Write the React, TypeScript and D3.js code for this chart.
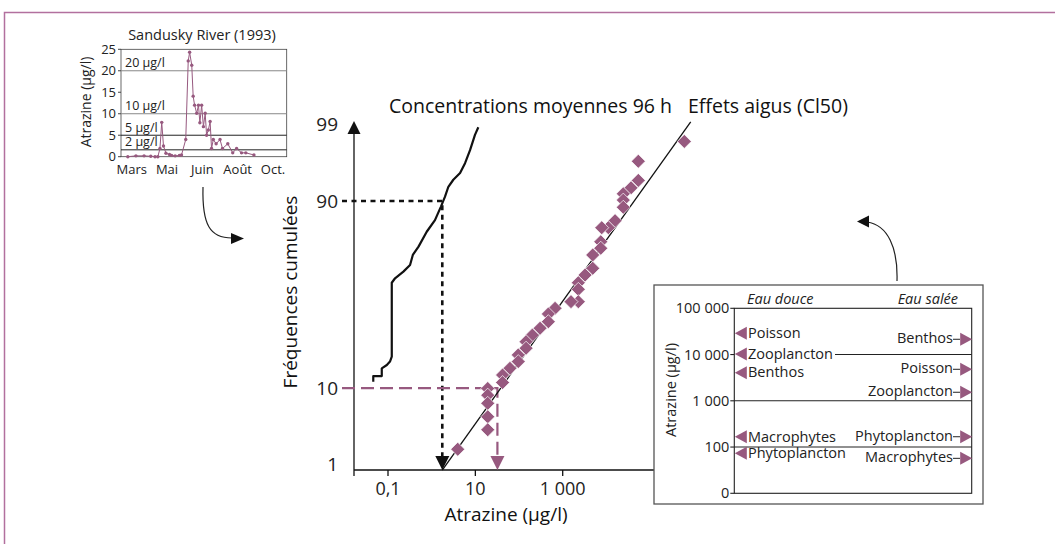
import React from "react";
import * as d3 from "d3";

const PURPLE = "#97597f";
const FRAME = "#b2709e";
const FONT = "'Open Sans', sans-serif";

// --- Sandusky River (1993) inset ---
const monthLabels = ["Mars", "Mai", "Juin", "Août", "Oct."];
const riverTicks = [0, 5, 10, 15, 20, 25];
const riverLimits = [20, 10, 5, 1.6];
const riverLimitLabels = ["20 μg/l", "10 μg/l", "5 μg/l", "2 μg/l"];
const riverLimitColors = ["#888", "#888", "#222", "#222"];
// time in label units (0 = Mars ... 4 = Oct.)
const riverT = [
  -0.11, 0.12, 0.35, 0.54, 0.66, 0.74, 0.8, 0.85, 0.9, 0.97, 1.07, 1.13, 1.23, 1.35, 1.41, 1.53,
  1.6, 1.64, 1.7, 1.74, 1.78, 1.84, 1.89, 1.93, 1.98, 2.03, 2.08, 2.12, 2.17, 2.22, 2.26, 2.31,
  2.39, 2.5, 2.57, 2.72, 2.86, 2.97, 3.11, 3.23, 3.46,
];
const riverConc = [
  0, 0.2, 0.2, 0.1, 0, 0, 1.9, 8, 2.5, 0.8, 0.5, 0.3, 0.2, 0.3, 0.4, 4,
  22.3, 24.3, 21.3, 14.1, 12, 10.1, 12, 7.9, 12, 7, 10.1, 5, 6.2, 8.2, 1.9, 4,
  3, 4, 1.9, 3, 0.9, 1.9, 0.9, 0.9, 0.4,
];

// --- main plot: cumulative frequencies ---
const yTicks = [1, 10, 90, 99];
const xTicks = [0.1, 10, 1000];
const xTickLabels = ["0,1", "10", "1 000"];
// mean 96 h concentrations (μg/l) vs cumulative frequency (%)
const concX = [
  0.046, 0.046, 0.072, 0.072, 0.094, 0.111, 0.122, 0.122, 0.122, 0.145, 0.225, 0.32, 0.37, 0.5,
  0.77, 1.19, 1.62, 2.02, 2.41, 3.13, 4.47, 5.81, 7.56, 9.8, 11.7,
];
const concPct = [
  11.6, 13.2, 13.2, 15.6, 16.7, 17.9, 19.7, 39.8, 56.4, 58.8, 62.3, 65.7, 70.6, 74.4,
  80.5, 84.6, 88.5, 91.0, 93.0, 94.2, 95.2, 96.4, 97.6, 98.56, 98.9,
];
// acute effects (CL50, μg/l) vs cumulative frequency (%)
const effX = [
  609000, 53900, 53900, 36700, 24400, 24400, 24400, 15800, 11100, 7830, 7430, 7430, 4870, 4870,
  3250, 2280, 2280, 2280, 1550, 668, 469, 469, 303, 202, 145, 145, 96, 96, 62, 42, 42,
  19.2, 19.2, 19.2, 19.2, 19.2, 3.95,
];
const effPct = [
  98.2, 96.6, 94.1, 92.8, 91.6, 90.2, 88.4, 84.4, 82.0, 82.0, 76.5, 73.7, 70.6, 64.0,
  60.5, 56.4, 52.8, 46.1, 46.1, 42.5, 39.5, 35.5, 32.2, 28.9, 25.9, 23.1, 20.4, 17.9, 15.6, 13.5, 11.4,
  9.9, 8.4, 6.8, 4.7, 3.2, 1.7,
];
const fitX = [1.75, 853000];
const fitPct = [0.81, 99.1];
const guideBlack = { pct: 90, x: 1.75 };
const guidePurple = { pct: 10, x: 32 };

// --- acute toxicity by group ---
const boxTicks = [10, 100, 1000, 10000, 100000];
const boxTickLabels = ["0", "100", "1 000", "10 000", "100 000"];
const freshTaxa = ["Poisson", "Zooplancton", "Benthos", "Macrophytes", "Phytoplancton"];
const freshValues = [28800, 10300, 4050, 167, 73];
const saltTaxa = ["Benthos", "Poisson", "Zooplancton", "Phytoplancton", "Macrophytes"];
const saltValues = [21400, 4800, 1530, 167, 57];

function probit(p: number): number {
  const a = [-39.69683028665376, 220.9460984245205, -275.9285104469687, 138.357751867269, -30.66479806614716, 2.506628277459239];
  const b = [-54.47609879822406, 161.5858368580409, -155.6989798598866, 66.80131188771972, -13.28068155288572];
  const c = [-0.007784894002430293, -0.3223964580411365, -2.400758277161838, -2.549671324505306, 4.374664141464968, 2.938163982698783];
  const d = [0.007784695709041462, 0.3224671290700398, 2.445134137142996, 3.754408661907416];
  const tail = (q: number) =>
    (((((c[0] * q + c[1]) * q + c[2]) * q + c[3]) * q + c[4]) * q + c[5]) /
    ((((d[0] * q + d[1]) * q + d[2]) * q + d[3]) * q + 1);
  if (p < 0.02425) return tail(Math.sqrt(-2 * Math.log(p)));
  if (p > 1 - 0.02425) return -tail(Math.sqrt(-2 * Math.log(1 - p)));
  const q = p - 0.5;
  const r = q * q;
  return (
    ((((((a[0] * r + a[1]) * r + a[2]) * r + a[3]) * r + a[4]) * r + a[5]) * q) /
    (((((b[0] * r + b[1]) * r + b[2]) * r + b[3]) * r + b[4]) * r + 1)
  );
}

const App = () => {
  // inset scales
  const rx = d3.scaleLinear().domain([0, 4]).range([131.7, 273]);
  const ry = d3.scaleLinear().domain([0, 25]).range([156.7, 49.3]);
  const riverLine = d3
    .line<number>()
    .x((_, i) => rx(riverT[i]))
    .y((v) => ry(v));

  // main scales
  const x = d3.scaleLog().domain([0.1, 1000]).range([388, 562.7]);
  const z = d3.scaleLinear().domain([-2, 2]).range([440.5, 148.5]);
  const y = (pct: number) => z(probit(pct / 100));
  const x0 = 354;
  const yBase = 470;
  const concLine = d3
    .line<number>()
    .x((v) => x(v))
    .y((_, i) => y(concPct[i]));

  // box scale
  const by = d3.scaleLog().domain([10, 100000]).range([493.3, 308.3]);
  const bL = 734.3;
  const bR = 971.7;

  const diamond = "M0,-7L7,0L0,7L-7,0Z";

  return (
    <svg
      width={1055}
      height={544}
      style={{ position: "absolute", left: 0, top: 0, background: "#fff", fontFamily: FONT }}
    >
      <rect x={4.5} y={12.5} width={1100} height={600} fill="none" stroke={FRAME} strokeWidth={1.5} />

      {/* ---------- Sandusky inset ---------- */}
      <text x={202} y={40} fontSize={14.5} textAnchor="middle" fill="#222">
        Sandusky River (1993)
      </text>
      <rect x={121} y={49.3} width={165.7} height={107.4} fill="none" stroke="#444" strokeWidth={0.8} />
      {riverLimits.map((v, i) => (
        <g key={i}>
          <line x1={121} x2={286.7} y1={ry(v)} y2={ry(v)} stroke={riverLimitColors[i]} strokeWidth={1} />
          <text x={125} y={ry(v) - 3.5} fontSize={12.5} fill="#222">
            {riverLimitLabels[i]}
          </text>
        </g>
      ))}
      {riverTicks.map((t) => (
        <g key={t}>
          <line x1={118} x2={121} y1={ry(t)} y2={ry(t)} stroke="#444" />
          <text x={116} y={ry(t)} dy="0.35em" fontSize={13} textAnchor="end" fill="#222">
            {t}
          </text>
        </g>
      ))}
      {monthLabels.map((m, i) => (
        <text key={m} x={rx(i)} y={174} fontSize={13} textAnchor="middle" fill="#222">
          {m}
        </text>
      ))}
      <text transform="translate(91,102) rotate(-90)" fontSize={14} textAnchor="middle" fill="#222">
        Atrazine (μg/l)
      </text>
      <path d={riverLine(riverConc) || ""} fill="none" stroke={PURPLE} strokeWidth={1} />
      {riverConc.map((v, i) => (
        <circle key={i} cx={rx(riverT[i])} cy={ry(v)} r={1.7} fill={PURPLE} />
      ))}

      {/* curved arrows */}
      <path d="M203,187 C202,225 210,238 232,238" fill="none" stroke="#222" strokeWidth={1.2} />
      <polygon points="244,238.5 231,233 231,244" fill="#111" />
      <path d="M897,281 C898,248 888,225 867,222" fill="none" stroke="#222" strokeWidth={1.2} />
      <polygon points="857,221.5 869,215.5 869,227.5" fill="#111" />

      {/* ---------- main plot ---------- */}
      <text x={389} y={113} fontSize={19.5} fill="#111">
        Concentrations moyennes 96 h
      </text>
      <text x={688} y={113} fontSize={19.5} fill="#111">
        Effets aigus (Cl50)
      </text>

      <line x1={x0} x2={x0} y1={yBase} y2={132} stroke="#111" strokeWidth={1.3} />
      <polygon points={`${x0},121 ${x0 - 6.5},134 ${x0 + 6.5},134`} fill="#111" />
      <line x1={x0} x2={660} y1={yBase} y2={yBase} stroke="#111" strokeWidth={1.3} />
      <line x1={x0} x2={x0} y1={yBase} y2={yBase + 6} stroke="#111" strokeWidth={1.3} />
      {xTicks.map((t, i) => (
        <g key={t}>
          <line x1={x(t)} x2={x(t)} y1={yBase} y2={yBase + 6} stroke="#111" strokeWidth={1.3} />
          <text x={x(t)} y={495} fontSize={18} textAnchor="middle" fill="#222">
            {xTickLabels[i]}
          </text>
        </g>
      ))}
      {yTicks.map((t) => (
        <text key={t} x={338} y={y(t)} dy="0.35em" fontSize={19} textAnchor="end" fill="#222">
          {t}
        </text>
      ))}
      <text transform="translate(297,292) rotate(-90)" fontSize={19} textAnchor="middle" fill="#111">
        Fréquences cumulées
      </text>
      <text x={506} y={521} fontSize={19} textAnchor="middle" fill="#111">
        Atrazine (μg/l)
      </text>

      {/* black dotted guide (90 %) */}
      <path
        d={`M342,${y(guideBlack.pct)}H${x(guideBlack.x)}V${yBase - 13}`}
        fill="none"
        stroke="#111"
        strokeWidth={2.6}
        strokeDasharray="5,4.5"
      />
      <polygon
        points={`${x(guideBlack.x)},${yBase} ${x(guideBlack.x) - 7},${yBase - 14} ${x(guideBlack.x) + 7},${yBase - 14}`}
        fill="#111"
      />

      {/* purple dashed guide (10 %) */}
      <path
        d={`M342,${y(guidePurple.pct)}H${x(guidePurple.x)}V${yBase - 13}`}
        fill="none"
        stroke={PURPLE}
        strokeWidth={2.2}
        strokeDasharray="13,6"
      />
      <polygon
        points={`${x(guidePurple.x)},${yBase} ${x(guidePurple.x) - 7},${yBase - 14} ${x(guidePurple.x) + 7},${yBase - 14}`}
        fill={PURPLE}
      />

      <path d={concLine(concX) || ""} fill="none" stroke="#111" strokeWidth={2.2} strokeLinejoin="round" />

      <line
        x1={x(fitX[0])}
        y1={y(fitPct[0])}
        x2={x(fitX[1])}
        y2={y(fitPct[1])}
        stroke="#111"
        strokeWidth={1.3}
      />
      {effX.map((v, i) => (
        <path
          key={i}
          d={diamond}
          transform={`translate(${x(v)},${y(effPct[i])})`}
          fill={PURPLE}
          stroke="#fff"
          strokeWidth={0.7}
        />
      ))}

      {/* ---------- toxicity box ---------- */}
      <rect x={654} y={285} width={329} height={219} fill="#fff" stroke="#555" strokeWidth={1.3} />
      <rect x={bL} y={by(100000)} width={bR - bL} height={by(10) - by(100000)} fill="none" stroke="#222" strokeWidth={1.1} />
      <line x1={835} x2={bR} y1={by(10000)} y2={by(10000)} stroke="#222" strokeWidth={1.1} />
      <line x1={bL} x2={bR} y1={by(1000)} y2={by(1000)} stroke="#222" strokeWidth={1.1} />
      <line x1={bL} x2={bR} y1={by(100)} y2={by(100)} stroke="#222" strokeWidth={1.1} />
      {boxTicks.map((t, i) => (
        <g key={t}>
          <line x1={bL - 4} x2={bL} y1={by(t)} y2={by(t)} stroke="#222" strokeWidth={1.1} />
          <text x={bL - 5} y={by(t)} dy="0.35em" fontSize={14.5} textAnchor="end" fill="#222">
            {boxTickLabels[i]}
          </text>
        </g>
      ))}
      <text transform="translate(676,390) rotate(-90)" fontSize={14.5} textAnchor="middle" fill="#222">
        Atrazine (μg/l)
      </text>
      <text x={747} y={304} fontSize={14.5} fontStyle="italic" fill="#222">
        Eau douce
      </text>
      <text x={958} y={304} fontSize={14.5} fontStyle="italic" fill="#222" textAnchor="end">
        Eau salée
      </text>
      {freshTaxa.map((name, i) => {
        const yy = by(freshValues[i]);
        return (
          <g key={name}>
            <polygon points={`${bL + 0.5},${yy} ${bL + 12.5},${yy - 6.5} ${bL + 12.5},${yy + 6.5}`} fill={PURPLE} />
            <text x={748} y={yy} dy="0.33em" fontSize={14.5} fill="#222">
              {name}
            </text>
          </g>
        );
      })}
      {saltTaxa.map((name, i) => {
        const yy = by(saltValues[i]);
        return (
          <g key={name}>
            <line x1={953} x2={960} y1={yy} y2={yy} stroke="#222" strokeWidth={1} />
            <polygon points={`${bR + 0.5},${yy} ${bR - 11.5},${yy - 6.5} ${bR - 11.5},${yy + 6.5}`} fill={PURPLE} />
            <text x={953} y={yy - 1} dy="0.35em" fontSize={14.5} fill="#222" textAnchor="end">
              {name}
            </text>
          </g>
        );
      })}
    </svg>
  );
};

export default App;
